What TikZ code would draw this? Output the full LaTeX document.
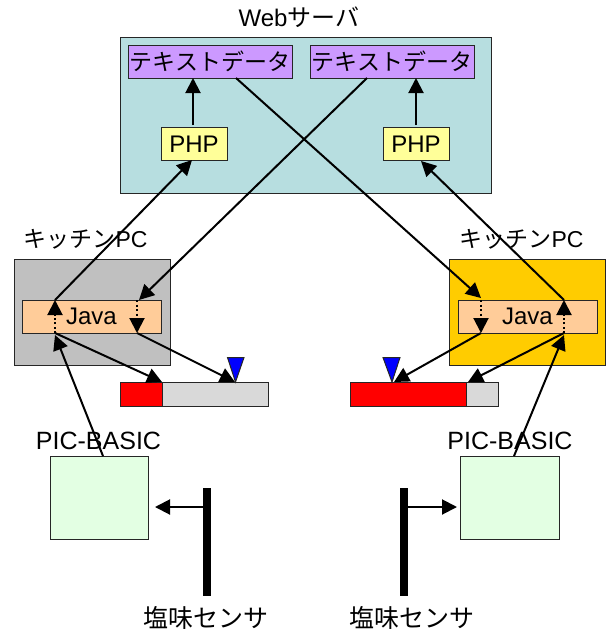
\documentclass[tikz,border=0pt]{standalone}
\usepackage{fontspec}
\setmainfont{Liberation Sans}
\newfontfamily\jpf{Noto Sans CJK JP}
\usetikzlibrary{arrows.meta}
\newcommand{\lbl}{\fontsize{23}{25}\selectfont}
\newcommand{\lbln}{\fontsize{24}{26}\selectfont}
\newcommand{\lblb}{\fontsize{25}{27}\selectfont}
\tikzset{
  x=1pt,y=-1pt,
  box/.style={draw=black!85,line width=1pt,rectangle,inner sep=0pt,outer sep=0pt},
  txt/.style={inner sep=0pt,outer sep=0pt,anchor=center,text=black},
  conn/.style={draw=black,line width=2pt,-{Triangle[length=15pt,width=15pt]}},
  dots/.style={draw=black,line width=2pt,dash pattern=on 2pt off 2.5pt,-{Triangle[length=15pt,width=15pt]}},
}
\begin{document}
\begin{tikzpicture}
\useasboundingbox (0,0) rectangle (606,633);
% server
\node[box,fill={rgb,255:red,183;green,222;blue,224},minimum width=371pt,minimum height=156pt] (server) at (305.5,115) {};
\node[box,fill={rgb,255:red,204;green,153;blue,255},minimum width=164pt,minimum height=33pt] (textL) at (210,61.5) {\lbl\jpf テキストデータ};
\node[box,fill={rgb,255:red,204;green,153;blue,255},minimum width=164pt,minimum height=33pt] (textR) at (392,61.5) {\lbl\jpf テキストデータ};
\node[box,fill={rgb,255:red,255;green,255;blue,153},minimum width=66pt,minimum height=33pt] (phpL) at (194,144) {\lbln PHP};
\node[box,fill={rgb,255:red,255;green,255;blue,153},minimum width=66pt,minimum height=33pt] (phpR) at (416,144) {\lbln PHP};
% kitchen PCs
\node[box,fill={rgb,255:red,192;green,192;blue,192},minimum width=156pt,minimum height=106pt] (pcL) at (92,312) {};
\node[box,fill={rgb,255:red,255;green,204;blue,0},minimum width=156pt,minimum height=106pt] (pcR) at (527,312) {};
\node[box,fill={rgb,255:red,255;green,204;blue,153},minimum width=139pt,minimum height=33pt] (javaL) at (91.5,316.5) {\lbln Java};
\node[box,fill={rgb,255:red,255;green,204;blue,153},minimum width=139pt,minimum height=33pt] (javaR) at (527.5,316.5) {\lbln Java};
% bars
\node[box,fill={rgb,255:red,217;green,217;blue,217},minimum width=148pt,minimum height=24pt] (barL) at (194,394) {};
\node[box,fill=red,minimum width=42pt,minimum height=24pt] (redL) at (141,394) {};
\node[box,fill={rgb,255:red,217;green,217;blue,217},minimum width=148pt,minimum height=24pt] (barR) at (424,394) {};
\node[box,fill=red,minimum width=116pt,minimum height=24pt] (redR) at (408,394) {};
\draw[box,fill=blue] (227.5,357.5) -- (244,357.5) -- (235.5,382) -- cycle;
\draw[box,fill=blue] (383,357.5) -- (400,357.5) -- (392,382) -- cycle;
% PIC boxes
\node[box,fill={rgb,255:red,227;green,255;blue,227},minimum width=98pt,minimum height=83pt] (picL) at (99,498) {};
\node[box,fill={rgb,255:red,227;green,255;blue,227},minimum width=99pt,minimum height=83pt] (picR) at (509.5,498) {};
% sensors
\node[fill=black,inner sep=0pt,minimum width=8pt,minimum height=108pt] (senL) at (207,542) {};
\node[fill=black,inner sep=0pt,minimum width=8pt,minimum height=108pt] (senR) at (404,542) {};
% labels
\node[txt] (lblWeb) at (299,17) {\lbln Web{\jpf サーバ}};
\node[txt] (lblPcL) at (85.5,239) {\lbl{\jpf キッチン}PC};
\node[txt] (lblPcR) at (521.5,239) {\lbl{\jpf キッチン}PC};
\node[txt] (lblPicL) at (98.5,441) {\lblb PIC-BASIC};
\node[txt] (lblPicR) at (510,441) {\lblb PIC-BASIC};
\node[txt] (lblSenL) at (206,618) {\lblb\jpf 塩味センサ};
\node[txt] (lblSenR) at (412,618) {\lblb\jpf 塩味センサ};
% connector end points
\coordinate (jLa) at (55,300);
\coordinate (jLb) at (139,300);
\coordinate (jLc) at (55,333);
\coordinate (jLd) at (137,333);
\coordinate (jLe) at (137,300);
\coordinate (jRa) at (564,300);
\coordinate (jRb) at (481,298);
\coordinate (jRc) at (564,333);
\coordinate (jRd) at (481,333);
\coordinate (jRe) at (481,300);
\coordinate (pLb) at (192,160);
\coordinate (pRb) at (421,161);
\coordinate (pLt) at (193,125);
\coordinate (pRt) at (416,125);
\coordinate (tLa) at (193,78);
\coordinate (tRa) at (416,78);
\coordinate (tLb) at (236,78);
\coordinate (tRb) at (367,78);
\coordinate (bL1) at (162,382);
\coordinate (bL2) at (235,382);
\coordinate (bR1) at (468,382);
\coordinate (bR2) at (394,382);
\coordinate (picLt) at (103,456);
\coordinate (picRt) at (514,456);
\coordinate (jLf) at (55,335);
\coordinate (jRf) at (564,335);
\coordinate (sLa) at (203,507);
\coordinate (sLb) at (155,507);
\coordinate (sRa) at (408,507);
\coordinate (sRb) at (457,507);
% connectors
\draw[conn] (pLt) -- (tLa);
\draw[conn] (pRt) -- (tRa);
\draw[conn] (jLa) -- (pLb);
\draw[conn] (jRa) -- (pRb);
\draw[conn] (tLb) -- (jRb);
\draw[conn] (tRb) -- (jLb);
\draw[dots] (jLc) -- (jLa);
\draw[dots] (jLe) -- (jLd);
\draw[dots] (jRc) -- (jRa);
\draw[dots] (jRe) -- (jRd);
\draw[conn] (jLc) -- (bL1);
\draw[conn] (jLd) -- (bL2);
\draw[conn] (jRc) -- (bR1);
\draw[conn] (jRd) -- (bR2);
\draw[conn] (picLt) -- (jLf);
\draw[conn] (picRt) -- (jRf);
\draw[conn] (sLa) -- (sLb);
\draw[conn] (sRa) -- (sRb);
\end{tikzpicture}
\end{document}
